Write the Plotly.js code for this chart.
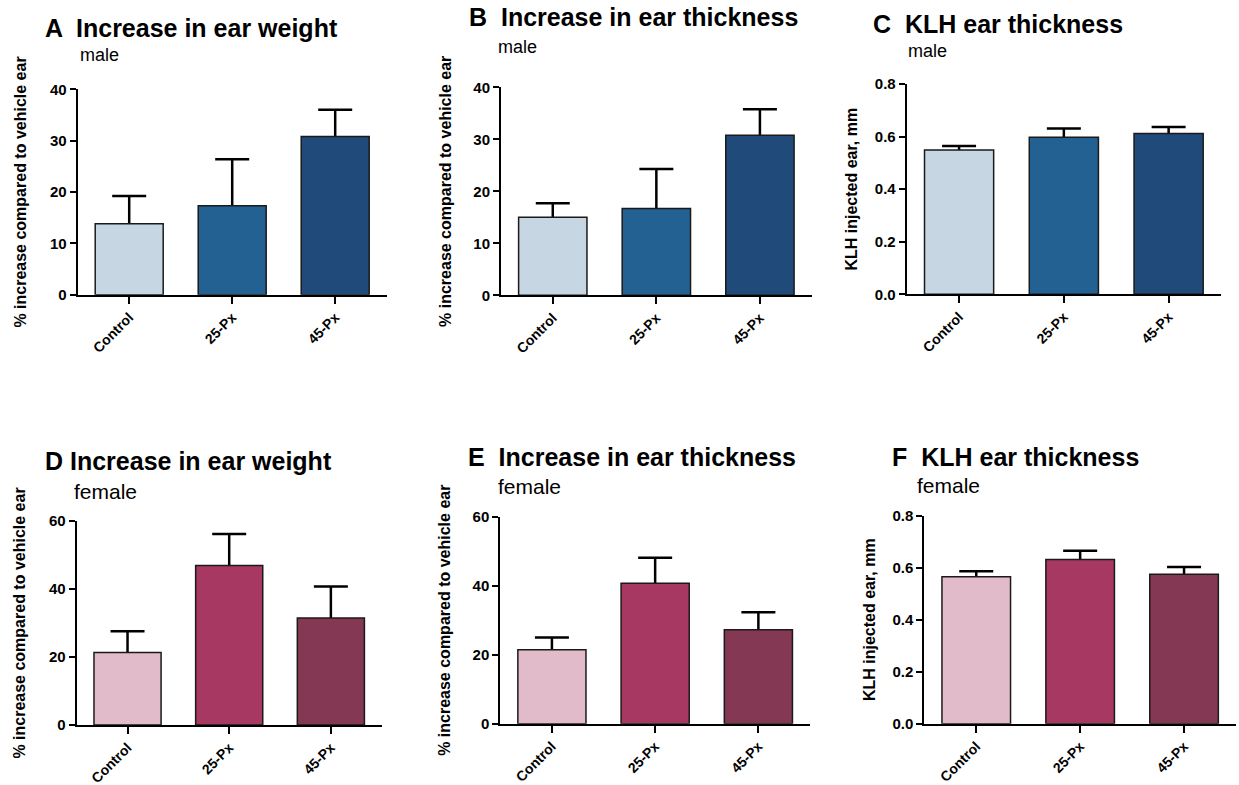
<!DOCTYPE html>
<html>
<head>
<meta charset="utf-8">
<script src="https://cdn.plot.ly/plotly-3.0.1.min.js"></script>
<style>html,body{margin:0;padding:0;background:#fff;}#chart{width:1239px;height:785px;}</style>
</head>
<body>
<div id="chart"></div>
<script>
// ---------- data ----------
const categories = ['Control', '25-Px', '45-Px'];

const maleEarWeight = [13.8, 17.3, 30.8];
const maleEarWeightErr = [5.4, 9.1, 5.2];
const maleEarThickness = [15.0, 16.7, 30.8];
const maleEarThicknessErr = [2.7, 7.6, 5.0];
const maleKLH = [0.549, 0.597, 0.612];
const maleKLHErr = [0.015, 0.034, 0.024];

const femaleEarWeight = [21.3, 46.9, 31.5];
const femaleEarWeightErr = [6.3, 9.3, 9.2];
const femaleEarThickness = [21.4, 40.7, 27.2];
const femaleEarThicknessErr = [3.6, 7.4, 5.1];
const femaleKLH = [0.565, 0.632, 0.575];
const femaleKLHErr = [0.021, 0.033, 0.028];

const panelTitles = ['A  Increase in ear weight', 'B  Increase in ear thickness', 'C  KLH ear thickness',
                     'D Increase in ear weight', 'E  Increase in ear thickness', 'F  KLH ear thickness'];
const panelSubtitles = ['male', 'male', 'male', 'female', 'female', 'female'];
const yTitles = ['% increase compared to vehicle ear', '% increase compared to vehicle ear', 'KLH injected ear, mm',
                 '% increase compared to vehicle ear', '% increase compared to vehicle ear', 'KLH injected ear, mm'];

// ---------- styling ----------
const W = 1239, H = 785;
const FONT = 'Liberation Sans, Arial, Helvetica, sans-serif';
const blues = ['#c7d6e3', '#246193', '#1f4a7a'];
const pinks = ['#e2bbcb', '#a63862', '#843853'];

const series = [
  {v: maleEarWeight, e: maleEarWeightErr, c: blues},
  {v: maleEarThickness, e: maleEarThicknessErr, c: blues},
  {v: maleKLH, e: maleKLHErr, c: blues},
  {v: femaleEarWeight, e: femaleEarWeightErr, c: pinks},
  {v: femaleEarThickness, e: femaleEarThicknessErr, c: pinks},
  {v: femaleKLH, e: femaleKLHErr, c: pinks}
];

// pixel boxes of each plot area [left, right, top, bottom]
const boxes = [
  [77.7, 386.7, 89.3, 294.7],
  [501, 811.7, 87.3, 295.3],
  [906.7, 1221, 84, 294.3],
  [76.7, 381.7, 521, 725],
  [500.3, 810, 516.7, 723.7],
  [924.3, 1236, 515.7, 723.7]
];
const yRanges = [[0, 40], [0, 40], [0, 0.8], [0, 60], [0, 60], [0, 0.8]];
const yDticks = [10, 10, 0.2, 20, 20, 0.2];
const yFormats = ['', '', '.1f', '', '', '.1f'];
const yStandoff = [19, 18, 13, 19, 18, 13];

// title / subtitle positions (pixels)
const titlePos = [[43, 28], [467, 17.5], [871, 24], [43, 461], [466, 457], [890, 457]];
const subPos = [[78, 55], [496, 47], [906, 51], [72, 491], [496, 486], [915, 485]];
const subSize = [18, 18, 18, 21, 21, 21];

const traces = [];
const layout = {
  width: W, height: H,
  margin: {l: 0, r: 0, t: 0, b: 0},
  paper_bgcolor: '#ffffff', plot_bgcolor: '#ffffff',
  showlegend: false,
  barmode: 'overlay',
  font: {family: FONT, color: '#000'},
  annotations: []
};

series.forEach((s, i) => {
  const n = i === 0 ? '' : String(i + 1);
  // error bars (lower half hidden beneath the bars drawn afterwards)
  traces.push({
    type: 'bar',
    x: categories,
    y: s.v,
    xaxis: 'x' + n,
    yaxis: 'y' + n,
    width: 0.66,
    marker: {color: 'rgba(0,0,0,0)', line: {width: 0}},
    error_y: {type: 'data', array: s.e, symmetric: true,
              color: '#000', thickness: 2.5, width: 17},
    hoverinfo: 'skip'
  });
  // bars
  traces.push({
    type: 'bar',
    x: categories,
    y: s.v,
    xaxis: 'x' + n,
    yaxis: 'y' + n,
    width: 0.66,
    marker: {color: s.c, line: {color: '#1a1a1a', width: 1.5}},
    hoverinfo: 'x+y'
  });
  const b = boxes[i];
  layout['xaxis' + n] = {
    domain: [b[0] / W, b[1] / W],
    anchor: 'y' + n,
    type: 'category',
    range: [-0.5, 2.5],
    showline: true, linecolor: '#000', linewidth: 2,
    ticks: 'outside', ticklen: 7, tickwidth: 2, tickcolor: '#000',
    tickangle: -45,
    tickfont: {family: FONT, size: 14, weight: 'bold', color: '#000'},
    showgrid: false, zeroline: false, fixedrange: true
  };
  layout['yaxis' + n] = {
    domain: [1 - b[3] / H, 1 - b[2] / H],
    anchor: 'x' + n,
    range: yRanges[i],
    tick0: 0, dtick: yDticks[i], tickformat: yFormats[i],
    showline: true, linecolor: '#000', linewidth: 2,
    ticks: 'outside', ticklen: 6, tickwidth: 2, tickcolor: '#000',
    tickfont: {family: FONT, size: 15, weight: 'bold', color: '#000'},
    showgrid: false, zeroline: false, fixedrange: true,
    title: {text: yTitles[i], font: {family: FONT, size: 16, weight: 'bold', color: '#000'}, standoff: yStandoff[i]}
  };
  layout.annotations.push({
    xref: 'paper', yref: 'paper', x: titlePos[i][0] / W, y: 1 - titlePos[i][1] / H,
    xanchor: 'left', yanchor: 'middle', showarrow: false,
    text: panelTitles[i],
    font: {family: FONT, size: 25, weight: 'bold', color: '#000'}
  });
  layout.annotations.push({
    xref: 'paper', yref: 'paper', x: subPos[i][0] / W, y: 1 - subPos[i][1] / H,
    xanchor: 'left', yanchor: 'middle', showarrow: false,
    text: panelSubtitles[i],
    font: {family: FONT, size: subSize[i], color: '#000'}
  });
});

Plotly.newPlot('chart', traces, layout, {displayModeBar: false, staticPlot: true});
</script>
</body>
</html>
